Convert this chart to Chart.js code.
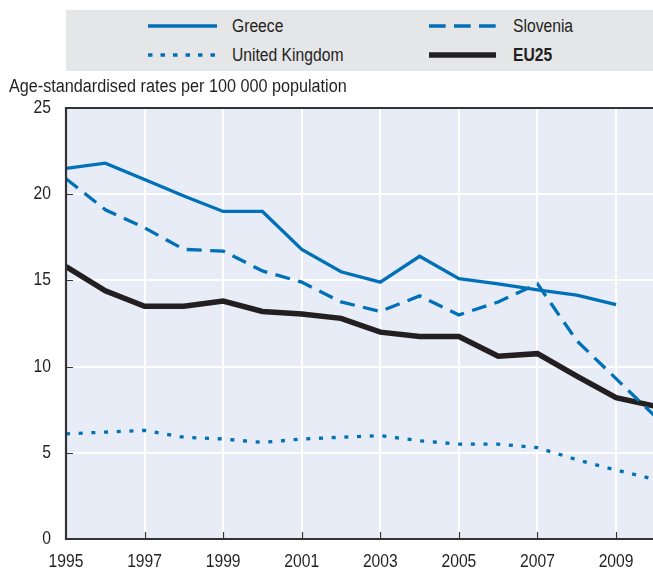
<!DOCTYPE html>
<html>
<head>
<meta charset="utf-8">
<script src="https://cdn.jsdelivr.net/npm/chart.js@4/dist/chart.umd.min.js"></script>
<style>
  html, body { margin: 0; padding: 0; background: #ffffff; }
  body { width: 653px; height: 568px; position: relative; overflow: hidden;
         font-family: "Liberation Sans", Arial, sans-serif; color: #231f20; }
  #wrap { position: absolute; left: 0; top: 0; width: 653px; height: 568px; }
  #legend { position: absolute; left: 66px; top: 10px; width: 587px; height: 61px; background: #e5e6e8; }
  .item { position: absolute; height: 20px; font-size: 18px; line-height: 20px; }
  .item svg { position: absolute; left: 0; top: 0; }
  .item span { position: absolute; left: 84px; top: 0; white-space: nowrap; transform: scaleX(0.87); transform-origin: 0 50%; }
  #ytitle { position: absolute; left: 9px; top: 76px; font-size: 18px; line-height: 20px; white-space: nowrap; transform: scaleX(0.9); transform-origin: 0 50%; }
</style>
</head>
<body>
<div id="wrap"><canvas id="c" width="653" height="568"></canvas></div>
<div id="legend">
  <div class="item" style="left:82px;top:6px;"><svg width="70" height="20"><line x1="0" y1="10" x2="69" y2="10" stroke="#0070b8" stroke-width="3.5"/></svg><span>Greece</span></div>
  <div class="item" style="left:363px;top:6px;"><svg width="70" height="20"><line x1="0" y1="10" x2="67" y2="10" stroke="#0070b8" stroke-width="3.5" stroke-dasharray="16.7 8.3"/></svg><span>Slovenia</span></div>
  <div class="item" style="left:82px;top:35px;"><svg width="70" height="20"><line x1="0" y1="10" x2="69" y2="10" stroke="#0070b8" stroke-width="3.3" stroke-dasharray="4.5 8"/></svg><span>United Kingdom</span></div>
  <div class="item" style="left:363px;top:35px;"><svg width="70" height="20"><line x1="0" y1="10" x2="67" y2="10" stroke="#231f20" stroke-width="5.5"/></svg><span style="font-weight:bold">EU25</span></div>
</div>
<div id="ytitle">Age-standardised rates per 100 000 population</div>
<script>
const years = [1995, 1996, 1997, 1998, 1999, 2000, 2001, 2002, 2003, 2004, 2005, 2006, 2007, 2008, 2009, 2010];
const greece   = [21.5, 21.8, 20.85, 19.9, 19.0, 19.0, 16.8, 15.5, 14.9, 16.4, 15.1, 14.8, 14.45, 14.15, 13.6, null];
const slovenia = [20.9, 19.1, 18.05, 16.8, 16.7, 15.55, 14.9, 13.75, 13.2, 14.1, 13.0, 13.75, 14.8, 11.5, 9.3, 7.1];
const uk       = [6.1, 6.2, 6.3, 5.9, 5.8, 5.6, 5.8, 5.9, 6.0, 5.7, 5.5, 5.5, 5.3, 4.6, 4.0, 3.45];
const eu25     = [15.8, 14.4, 13.5, 13.5, 13.8, 13.2, 13.05, 12.8, 12.0, 11.75, 11.75, 10.6, 10.75, 9.45, 8.2, 7.7];
const xTicks = [1995, 1997, 1999, 2001, 2003, 2005, 2007, 2009];
const yTicks = [0, 5, 10, 15, 20, 25];

const toPts = arr => years.map((y, i) => ({ x: y, y: arr[i] })).filter(p => p.y !== null);

const FONT = '"Liberation Sans", Arial, sans-serif';
const INK = '#231f20';
const AXIS = '#333333';
const BLUE = '#0070b8';

// draw tick labels slightly condensed (like the reference's narrow face)
function condenseLabels(scale, k) {
  if (scale._condensed) return;
  const orig = scale.drawLabels;
  scale.drawLabels = function (area) {
    const ctx = this.ctx;
    ctx.fillText = function (t, x, y, m) {
      this.save();
      this.translate(x, y);
      this.scale(k, 1);
      CanvasRenderingContext2D.prototype.fillText.call(this, t, 0, 0);
      this.restore();
    };
    try { orig.call(this, area); } finally { delete ctx.fillText; }
  };
  scale._condensed = true;
}

const framePlugin = {
  id: 'frame',
  beforeDraw(chart) {
    condenseLabels(chart.scales.x, 0.87);
    condenseLabels(chart.scales.y, 0.87);
    const a = chart.chartArea, ctx = chart.ctx;
    ctx.save();
    ctx.fillStyle = '#e8ecf6';
    ctx.fillRect(a.left, a.top, a.right - a.left, a.bottom - a.top);
    ctx.restore();
  },
  afterDatasetsDraw(chart) {
    const a = chart.chartArea, ctx = chart.ctx;
    const xs = chart.scales.x, ys = chart.scales.y;
    ctx.save();
    ctx.strokeStyle = AXIS;
    ctx.lineWidth = 1.2;
    ctx.beginPath();
    xTicks.forEach(v => { if (v === 1995) return; const px = Math.round(xs.getPixelForValue(v)) + 0.5; ctx.moveTo(px, a.bottom); ctx.lineTo(px, a.bottom - 7); });
    yTicks.forEach(v => { if (v === 0 || v === 25) return; const py = Math.round(ys.getPixelForValue(v)) + 0.5; ctx.moveTo(a.left, py); ctx.lineTo(a.left + 7, py); });
    ctx.stroke();
    ctx.lineWidth = 2.2;
    ctx.beginPath();
    ctx.moveTo(a.right + 2, a.top);
    ctx.lineTo(a.left, a.top);
    ctx.lineTo(a.left, a.bottom);
    ctx.lineTo(a.right + 2, a.bottom);
    ctx.stroke();
    ctx.restore();
  }
};

new Chart(document.getElementById('c'), {
  type: 'line',
  data: {
    datasets: [
      { label: 'Greece', data: toPts(greece), borderColor: BLUE, borderWidth: 3.3, pointRadius: 0, tension: 0, fill: false },
      { label: 'Slovenia', data: toPts(slovenia), borderColor: BLUE, borderWidth: 3.3, borderDash: [15, 8.5], pointRadius: 0, tension: 0, fill: false },
      { label: 'United Kingdom', data: toPts(uk), borderColor: BLUE, borderWidth: 3.3, borderDash: [4, 8.7], pointRadius: 0, tension: 0, fill: false },
      { label: 'EU25', data: toPts(eu25), borderColor: INK, borderWidth: 5.5, pointRadius: 0, tension: 0, fill: false }
    ]
  },
  options: {
    responsive: false,
    animation: false,
    layout: { padding: { top: 108, right: 0, left: 0, bottom: 0 } },
    plugins: { legend: { display: false }, tooltip: { enabled: false } },
    scales: {
      x: {
        type: 'linear', min: 1995, max: 2009.94,
        afterBuildTicks: s => { s.ticks = xTicks.map(v => ({ value: v })); },
        afterFit: s => { s.height = 29; },
        grid: { color: '#ffffff', lineWidth: 2, drawTicks: false },
        border: { display: false },
        ticks: { padding: 12, color: INK, font: { family: FONT, size: 18 }, callback: v => String(v), maxRotation: 0, autoSkip: false }
      },
      y: {
        min: 0, max: 25,
        afterBuildTicks: s => { s.ticks = yTicks.map(v => ({ value: v })); },
        afterFit: s => { s.width = 66; },
        grid: { color: '#ffffff', lineWidth: 2, drawTicks: false },
        border: { display: false },
        ticks: { padding: 15, color: INK, font: { family: FONT, size: 18 } }
      }
    }
  },
  plugins: [framePlugin]
});
</script>
</body>
</html>
